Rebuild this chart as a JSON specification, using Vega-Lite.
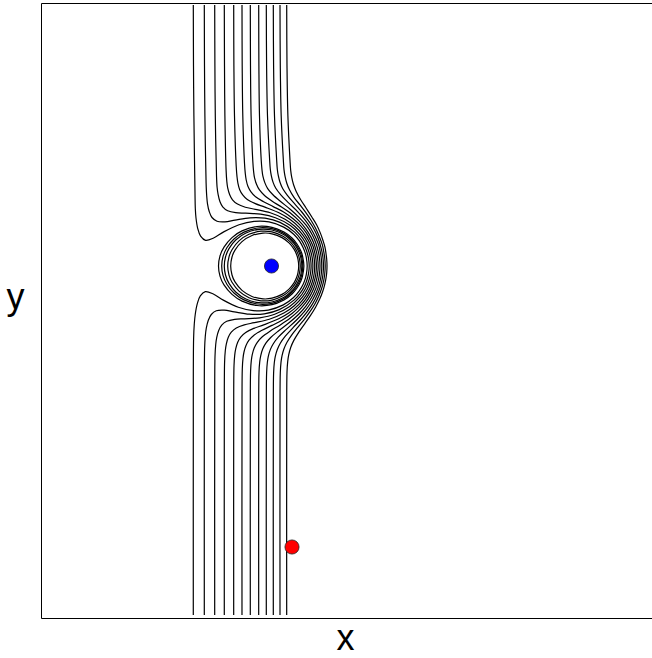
{
  "$schema": "https://vega.github.io/schema/vega-lite/v6.json",
  "width": 611,
  "height": 615,
  "autosize": {"type": "none"},
  "padding": {"left": 41, "top": 3, "right": 0, "bottom": 40},
  "background": "white",
  "config": {
    "view": {"stroke": null},
    "axis": {
      "ticks": false, "labels": false, "grid": false,
      "domainColor": "black", "domainWidth": 1,
      "titleFont": "Liberation Sans", "titleFontSize": 36,
      "titleFontWeight": "normal", "titleColor": "black"
    }
  },
  "datasets": {
    "streamlines": [
      {"s":1,"o":0,"x":-78.7,"y":261},{"s":1,"o":1,"x":-78.5,"y":200},{"s":1,"o":2,"x":-78.1,"y":150},{"s":1,"o":3,"x":-77,"y":72.8},{"s":1,"o":4,"x":-76.7,"y":57.8},{"s":1,"o":5,"x":-76,"y":48},{"s":1,"o":6,"x":-74.3,"y":37.6},{"s":1,"o":7,"x":-71.4,"y":29.9},{"s":1,"o":8,"x":-66.4,"y":25.7},{"s":1,"o":9,"x":-58.4,"y":28},{"s":1,"o":10,"x":-48.3,"y":34.1},{"s":1,"o":11,"x":-33,"y":41.2},{"s":1,"o":12,"x":-18,"y":44.6},{"s":1,"o":13,"x":-3,"y":44.1},{"s":1,"o":14,"x":11.7,"y":38.9},{"s":1,"o":15,"x":21.7,"y":31.8},{"s":1,"o":16,"x":27.6,"y":24.8},{"s":1,"o":17,"x":31.3,"y":17.9},{"s":1,"o":18,"x":33.3,"y":12.6},{"s":1,"o":19,"x":34.3,"y":8.7},{"s":1,"o":20,"x":35.2,"y":0},{"s":1,"o":21,"x":34.3,"y":-8.7},{"s":1,"o":22,"x":33.3,"y":-12.6},{"s":1,"o":23,"x":31.3,"y":-17.9},{"s":1,"o":24,"x":27.3,"y":-24.8},{"s":1,"o":25,"x":21.3,"y":-31.8},{"s":1,"o":26,"x":11.3,"y":-38.9},{"s":1,"o":27,"x":-3.7,"y":-44.1},{"s":1,"o":28,"x":-18.7,"y":-44.6},{"s":1,"o":29,"x":-33.7,"y":-41.2},{"s":1,"o":30,"x":-48.7,"y":-34.1},{"s":1,"o":31,"x":-58.7,"y":-28},{"s":1,"o":32,"x":-66.7,"y":-25.7},{"s":1,"o":33,"x":-71.7,"y":-29.9},{"s":1,"o":34,"x":-74.7,"y":-37.6},{"s":1,"o":35,"x":-76.7,"y":-48},{"s":1,"o":36,"x":-77.7,"y":-57.8},{"s":1,"o":37,"x":-78.4,"y":-72.8},{"s":1,"o":38,"x":-78.7,"y":-150},{"s":1,"o":39,"x":-78.7,"y":-349},

      {"s":2,"o":0,"x":-67.7,"y":261},{"s":2,"o":1,"x":-67.5,"y":200},{"s":2,"o":2,"x":-67.1,"y":150},{"s":2,"o":3,"x":-65.9,"y":83.1},{"s":2,"o":4,"x":-65.3,"y":70.2},{"s":2,"o":5,"x":-64.5,"y":62.2},{"s":2,"o":6,"x":-62.7,"y":54.2},{"s":2,"o":7,"x":-60,"y":48.5},{"s":2,"o":8,"x":-55,"y":44.8},{"s":2,"o":9,"x":-47,"y":44.2},{"s":2,"o":10,"x":-37,"y":45.9},{"s":2,"o":11,"x":-22,"y":48.2},{"s":2,"o":12,"x":-7,"y":47.8},{"s":2,"o":13,"x":8,"y":43.6},{"s":2,"o":14,"x":22.7,"y":33.9},{"s":2,"o":15,"x":29.6,"y":25.6},{"s":2,"o":16,"x":33.3,"y":18.4},{"s":2,"o":17,"x":35.8,"y":11},{"s":2,"o":18,"x":36.8,"y":5.7},{"s":2,"o":19,"x":37.2,"y":0},{"s":2,"o":20,"x":36.8,"y":-5.7},{"s":2,"o":21,"x":35.8,"y":-11},{"s":2,"o":22,"x":33.3,"y":-18.4},{"s":2,"o":23,"x":29.3,"y":-25.6},{"s":2,"o":24,"x":22.3,"y":-33.9},{"s":2,"o":25,"x":7.3,"y":-43.6},{"s":2,"o":26,"x":-7.7,"y":-47.8},{"s":2,"o":27,"x":-22.7,"y":-48.2},{"s":2,"o":28,"x":-37.7,"y":-45.9},{"s":2,"o":29,"x":-47.7,"y":-44.2},{"s":2,"o":30,"x":-55.7,"y":-44.8},{"s":2,"o":31,"x":-60.7,"y":-48.5},{"s":2,"o":32,"x":-63.7,"y":-54.2},{"s":2,"o":33,"x":-65.7,"y":-62.2},{"s":2,"o":34,"x":-66.7,"y":-70.2},{"s":2,"o":35,"x":-67.4,"y":-83.1},{"s":2,"o":36,"x":-67.7,"y":-150},{"s":2,"o":37,"x":-67.7,"y":-349},

      {"s":3,"o":0,"x":-57.3,"y":261},{"s":3,"o":1,"x":-57.1,"y":200},{"s":3,"o":2,"x":-56.7,"y":150},{"s":3,"o":3,"x":-55.5,"y":90.6},{"s":3,"o":4,"x":-54.9,"y":78.8},{"s":3,"o":5,"x":-53.9,"y":71.6},{"s":3,"o":6,"x":-52.1,"y":64.5},{"s":3,"o":7,"x":-49.3,"y":59.2},{"s":3,"o":8,"x":-44.3,"y":55.3},{"s":3,"o":9,"x":-36.3,"y":53.3},{"s":3,"o":10,"x":-26.3,"y":52.8},{"s":3,"o":11,"x":-11.3,"y":51.8},{"s":3,"o":12,"x":3.4,"y":48.3},{"s":3,"o":13,"x":18.4,"y":40.5},{"s":3,"o":14,"x":28.1,"y":31.2},{"s":3,"o":15,"x":33,"y":24},{"s":3,"o":16,"x":35.7,"y":17.7},{"s":3,"o":17,"x":37.7,"y":11.4},{"s":3,"o":18,"x":38.7,"y":6},{"s":3,"o":19,"x":39.1,"y":0},{"s":3,"o":20,"x":38.7,"y":-6},{"s":3,"o":21,"x":37.7,"y":-11.4},{"s":3,"o":22,"x":35.7,"y":-17.7},{"s":3,"o":23,"x":32.7,"y":-24},{"s":3,"o":24,"x":27.7,"y":-31.2},{"s":3,"o":25,"x":17.7,"y":-40.5},{"s":3,"o":26,"x":2.7,"y":-48.3},{"s":3,"o":27,"x":-12.3,"y":-51.8},{"s":3,"o":28,"x":-27.3,"y":-52.8},{"s":3,"o":29,"x":-37.3,"y":-53.3},{"s":3,"o":30,"x":-45.3,"y":-55.3},{"s":3,"o":31,"x":-50.3,"y":-59.2},{"s":3,"o":32,"x":-53.3,"y":-64.5},{"s":3,"o":33,"x":-55.3,"y":-71.6},{"s":3,"o":34,"x":-56.3,"y":-78.8},{"s":3,"o":35,"x":-57,"y":-90.6},{"s":3,"o":36,"x":-57.3,"y":-150},{"s":3,"o":37,"x":-57.3,"y":-349},

      {"s":4,"o":0,"x":-47.7,"y":261},{"s":4,"o":1,"x":-47.5,"y":200},{"s":4,"o":2,"x":-47.1,"y":150},{"s":4,"o":3,"x":-45.9,"y":95.9},{"s":4,"o":4,"x":-45.2,"y":84.8},{"s":4,"o":5,"x":-44.3,"y":78.1},{"s":4,"o":6,"x":-42.3,"y":71.3},{"s":4,"o":7,"x":-39.5,"y":66.2},{"s":4,"o":8,"x":-34.5,"y":61.9},{"s":4,"o":9,"x":-26.7,"y":58.8},{"s":4,"o":10,"x":-16.7,"y":56.7},{"s":4,"o":11,"x":-1.7,"y":53.2},{"s":4,"o":12,"x":13,"y":46.8},{"s":4,"o":13,"x":22.7,"y":39.7},{"s":4,"o":14,"x":30.7,"y":31.2},{"s":4,"o":15,"x":35.6,"y":23.2},{"s":4,"o":16,"x":38.3,"y":16},{"s":4,"o":17,"x":39.8,"y":10.4},{"s":4,"o":18,"x":40.5,"y":6.2},{"s":4,"o":19,"x":40.9,"y":0},{"s":4,"o":20,"x":40.5,"y":-6.2},{"s":4,"o":21,"x":39.8,"y":-10.4},{"s":4,"o":22,"x":38.3,"y":-16},{"s":4,"o":23,"x":35.3,"y":-23.2},{"s":4,"o":24,"x":30.3,"y":-31.2},{"s":4,"o":25,"x":22.3,"y":-39.7},{"s":4,"o":26,"x":12.3,"y":-46.8},{"s":4,"o":27,"x":-2.7,"y":-53.2},{"s":4,"o":28,"x":-17.7,"y":-56.7},{"s":4,"o":29,"x":-27.7,"y":-58.8},{"s":4,"o":30,"x":-35.7,"y":-61.9},{"s":4,"o":31,"x":-40.7,"y":-66.2},{"s":4,"o":32,"x":-43.7,"y":-71.3},{"s":4,"o":33,"x":-45.7,"y":-78.1},{"s":4,"o":34,"x":-46.7,"y":-84.8},{"s":4,"o":35,"x":-47.4,"y":-95.9},{"s":4,"o":36,"x":-47.7,"y":-150},{"s":4,"o":37,"x":-47.7,"y":-349},

      {"s":5,"o":0,"x":-38.3,"y":261},{"s":5,"o":1,"x":-38.1,"y":200},{"s":5,"o":2,"x":-37.5,"y":150},{"s":5,"o":3,"x":-35.8,"y":100},{"s":5,"o":4,"x":-35,"y":89.4},{"s":5,"o":5,"x":-34.1,"y":82.9},{"s":5,"o":6,"x":-32.3,"y":76.3},{"s":5,"o":7,"x":-29.3,"y":71.1},{"s":5,"o":8,"x":-24.7,"y":66.5},{"s":5,"o":9,"x":-16.7,"y":62.4},{"s":5,"o":10,"x":-7.1,"y":58.9},{"s":5,"o":11,"x":7.9,"y":52.8},{"s":5,"o":12,"x":17.5,"y":47},{"s":5,"o":13,"x":27.2,"y":38.6},{"s":5,"o":14,"x":33.9,"y":29.9},{"s":5,"o":15,"x":37.9,"y":22.7},{"s":5,"o":16,"x":40.2,"y":16.2},{"s":5,"o":17,"x":41.7,"y":10.4},{"s":5,"o":18,"x":42.4,"y":5.8},{"s":5,"o":19,"x":42.7,"y":0},{"s":5,"o":20,"x":42.4,"y":-5.8},{"s":5,"o":21,"x":41.7,"y":-10.4},{"s":5,"o":22,"x":40.2,"y":-16.2},{"s":5,"o":23,"x":37.7,"y":-22.7},{"s":5,"o":24,"x":33.7,"y":-29.9},{"s":5,"o":25,"x":26.7,"y":-38.6},{"s":5,"o":26,"x":16.7,"y":-47},{"s":5,"o":27,"x":6.7,"y":-52.8},{"s":5,"o":28,"x":-8.3,"y":-58.9},{"s":5,"o":29,"x":-18.3,"y":-62.4},{"s":5,"o":30,"x":-26.3,"y":-66.5},{"s":5,"o":31,"x":-31.3,"y":-71.1},{"s":5,"o":32,"x":-34.3,"y":-76.3},{"s":5,"o":33,"x":-36.3,"y":-82.9},{"s":5,"o":34,"x":-37.3,"y":-89.4},{"s":5,"o":35,"x":-38,"y":-100},{"s":5,"o":36,"x":-38.3,"y":-150},{"s":5,"o":37,"x":-38.3,"y":-349},

      {"s":6,"o":0,"x":-30,"y":261},{"s":6,"o":1,"x":-29.8,"y":200},{"s":6,"o":2,"x":-29.2,"y":150},{"s":6,"o":3,"x":-27.5,"y":102.8},{"s":6,"o":4,"x":-26.7,"y":92.4},{"s":6,"o":5,"x":-25.8,"y":86},{"s":6,"o":6,"x":-24,"y":79.5},{"s":6,"o":7,"x":-21,"y":74.2},{"s":6,"o":8,"x":-16.4,"y":69.2},{"s":6,"o":9,"x":-8.4,"y":64.3},{"s":6,"o":10,"x":1.2,"y":59.4},{"s":6,"o":11,"x":11.2,"y":54.2},{"s":6,"o":12,"x":20.8,"y":47.5},{"s":6,"o":13,"x":28.8,"y":40.2},{"s":6,"o":14,"x":34.5,"y":32.8},{"s":6,"o":15,"x":38.2,"y":26.1},{"s":6,"o":16,"x":41.2,"y":19.3},{"s":6,"o":17,"x":43,"y":12.4},{"s":6,"o":18,"x":44,"y":6.7},{"s":6,"o":19,"x":44.4,"y":0},{"s":6,"o":20,"x":44,"y":-6.7},{"s":6,"o":21,"x":43,"y":-12.4},{"s":6,"o":22,"x":41,"y":-19.3},{"s":6,"o":23,"x":38,"y":-26.1},{"s":6,"o":24,"x":34,"y":-32.8},{"s":6,"o":25,"x":28,"y":-40.2},{"s":6,"o":26,"x":20,"y":-47.5},{"s":6,"o":27,"x":10,"y":-54.2},{"s":6,"o":28,"x":0,"y":-59.4},{"s":6,"o":29,"x":-10,"y":-64.3},{"s":6,"o":30,"x":-18,"y":-69.2},{"s":6,"o":31,"x":-23,"y":-74.2},{"s":6,"o":32,"x":-26,"y":-79.5},{"s":6,"o":33,"x":-28,"y":-86},{"s":6,"o":34,"x":-29,"y":-92.4},{"s":6,"o":35,"x":-29.7,"y":-102.8},{"s":6,"o":36,"x":-30,"y":-150},{"s":6,"o":37,"x":-30,"y":-349},

      {"s":7,"o":0,"x":-21.7,"y":261},{"s":7,"o":1,"x":-21.5,"y":200},{"s":7,"o":2,"x":-20.9,"y":150},{"s":7,"o":3,"x":-19.2,"y":104.8},{"s":7,"o":4,"x":-18.4,"y":94.6},{"s":7,"o":5,"x":-17.5,"y":88.3},{"s":7,"o":6,"x":-15.5,"y":81.7},{"s":7,"o":7,"x":-12.7,"y":76.3},{"s":7,"o":8,"x":-7.7,"y":70.8},{"s":7,"o":9,"x":-0.1,"y":65},{"s":7,"o":10,"x":9.5,"y":58.9},{"s":7,"o":11,"x":19.5,"y":52},{"s":7,"o":12,"x":27.1,"y":45.1},{"s":7,"o":13,"x":33.8,"y":37.2},{"s":7,"o":14,"x":38.6,"y":29.6},{"s":7,"o":15,"x":42,"y":22.3},{"s":7,"o":16,"x":44.3,"y":14.6},{"s":7,"o":17,"x":45.5,"y":8.7},{"s":7,"o":18,"x":46.2,"y":0},{"s":7,"o":19,"x":45.5,"y":-8.7},{"s":7,"o":20,"x":44.3,"y":-14.6},{"s":7,"o":21,"x":41.8,"y":-22.3},{"s":7,"o":22,"x":38.3,"y":-29.6},{"s":7,"o":23,"x":33.3,"y":-37.2},{"s":7,"o":24,"x":26.3,"y":-45.1},{"s":7,"o":25,"x":18.3,"y":-52},{"s":7,"o":26,"x":8.3,"y":-58.9},{"s":7,"o":27,"x":-1.7,"y":-65},{"s":7,"o":28,"x":-9.7,"y":-70.8},{"s":7,"o":29,"x":-14.7,"y":-76.3},{"s":7,"o":30,"x":-17.7,"y":-81.7},{"s":7,"o":31,"x":-19.7,"y":-88.3},{"s":7,"o":32,"x":-20.7,"y":-94.6},{"s":7,"o":33,"x":-21.4,"y":-104.8},{"s":7,"o":34,"x":-21.7,"y":-150},{"s":7,"o":35,"x":-21.7,"y":-349},

      {"s":8,"o":0,"x":-13.3,"y":261},{"s":8,"o":1,"x":-13.1,"y":200},{"s":8,"o":2,"x":-12.5,"y":150},{"s":8,"o":3,"x":-10.8,"y":106.2},{"s":8,"o":4,"x":-10,"y":96.1},{"s":8,"o":5,"x":-9.1,"y":89.8},{"s":8,"o":6,"x":-7.1,"y":83.1},{"s":8,"o":7,"x":-4.3,"y":77.4},{"s":8,"o":8,"x":0.7,"y":71.5},{"s":8,"o":9,"x":8.3,"y":64.7},{"s":8,"o":10,"x":17.9,"y":57},{"s":8,"o":11,"x":27.5,"y":48.2},{"s":8,"o":12,"x":34.5,"y":40.3},{"s":8,"o":13,"x":40.2,"y":31.3},{"s":8,"o":14,"x":43.9,"y":22.8},{"s":8,"o":15,"x":46.2,"y":14.9},{"s":8,"o":16,"x":47.4,"y":8.6},{"s":8,"o":17,"x":48,"y":0},{"s":8,"o":18,"x":47.4,"y":-8.6},{"s":8,"o":19,"x":46.2,"y":-14.9},{"s":8,"o":20,"x":43.7,"y":-22.8},{"s":8,"o":21,"x":39.7,"y":-31.3},{"s":8,"o":22,"x":33.7,"y":-40.3},{"s":8,"o":23,"x":26.7,"y":-48.2},{"s":8,"o":24,"x":16.7,"y":-57},{"s":8,"o":25,"x":6.7,"y":-64.7},{"s":8,"o":26,"x":-1.3,"y":-71.5},{"s":8,"o":27,"x":-6.3,"y":-77.4},{"s":8,"o":28,"x":-9.3,"y":-83.1},{"s":8,"o":29,"x":-11.3,"y":-89.8},{"s":8,"o":30,"x":-12.3,"y":-96.1},{"s":8,"o":31,"x":-13,"y":-106.2},{"s":8,"o":32,"x":-13.3,"y":-150},{"s":8,"o":33,"x":-13.3,"y":-349},

      {"s":9,"o":0,"x":-5.7,"y":261},{"s":9,"o":1,"x":-5.4,"y":200},{"s":9,"o":2,"x":-4.5,"y":150},{"s":9,"o":3,"x":-2.4,"y":106.9},{"s":9,"o":4,"x":-1.7,"y":96.7},{"s":9,"o":5,"x":-0.7,"y":90.4},{"s":9,"o":6,"x":1.1,"y":83.6},{"s":9,"o":7,"x":3.8,"y":77.7},{"s":9,"o":8,"x":8.8,"y":71.2},{"s":9,"o":9,"x":16.3,"y":63.4},{"s":9,"o":10,"x":25.8,"y":54.2},{"s":9,"o":11,"x":33.3,"y":45.6},{"s":9,"o":12,"x":38.9,"y":37.5},{"s":9,"o":13,"x":43.6,"y":28.5},{"s":9,"o":14,"x":46.6,"y":21.1},{"s":9,"o":15,"x":48.3,"y":13.8},{"s":9,"o":16,"x":49.3,"y":7.8},{"s":9,"o":17,"x":49.8,"y":0},{"s":9,"o":18,"x":49.3,"y":-7.8},{"s":9,"o":19,"x":48.3,"y":-13.8},{"s":9,"o":20,"x":46.3,"y":-21.1},{"s":9,"o":21,"x":43.3,"y":-28.5},{"s":9,"o":22,"x":38.3,"y":-37.5},{"s":9,"o":23,"x":32.3,"y":-45.6},{"s":9,"o":24,"x":24.3,"y":-54.2},{"s":9,"o":25,"x":14.3,"y":-63.4},{"s":9,"o":26,"x":6.3,"y":-71.2},{"s":9,"o":27,"x":1.3,"y":-77.7},{"s":9,"o":28,"x":-1.7,"y":-83.6},{"s":9,"o":29,"x":-3.7,"y":-90.4},{"s":9,"o":30,"x":-4.7,"y":-96.7},{"s":9,"o":31,"x":-5.4,"y":-106.9},{"s":9,"o":32,"x":-5.7,"y":-150},{"s":9,"o":33,"x":-5.7,"y":-349},

      {"s":10,"o":0,"x":1.3,"y":261},{"s":10,"o":1,"x":1.6,"y":200},{"s":10,"o":2,"x":2.5,"y":150},{"s":10,"o":3,"x":4.6,"y":107},{"s":10,"o":4,"x":5.3,"y":96.8},{"s":10,"o":5,"x":6.3,"y":90.4},{"s":10,"o":6,"x":8.1,"y":83.5},{"s":10,"o":7,"x":10.8,"y":77.2},{"s":10,"o":8,"x":15.8,"y":70.2},{"s":10,"o":9,"x":23.3,"y":61.4},{"s":10,"o":10,"x":29.8,"y":54},{"s":10,"o":11,"x":35.3,"y":46.8},{"s":10,"o":12,"x":40.3,"y":39.8},{"s":10,"o":13,"x":43.9,"y":32.9},{"s":10,"o":14,"x":47.1,"y":25},{"s":10,"o":15,"x":49.3,"y":17.1},{"s":10,"o":16,"x":50.6,"y":10.9},{"s":10,"o":17,"x":51.2,"y":6},{"s":10,"o":18,"x":51.5,"y":0},{"s":10,"o":19,"x":51.2,"y":-6},{"s":10,"o":20,"x":50.6,"y":-10.9},{"s":10,"o":21,"x":49.3,"y":-17.1},{"s":10,"o":22,"x":46.8,"y":-25},{"s":10,"o":23,"x":43.3,"y":-32.9},{"s":10,"o":24,"x":39.3,"y":-39.8},{"s":10,"o":25,"x":34.3,"y":-46.8},{"s":10,"o":26,"x":28.3,"y":-54},{"s":10,"o":27,"x":21.3,"y":-61.4},{"s":10,"o":28,"x":13.3,"y":-70.2},{"s":10,"o":29,"x":8.3,"y":-77.2},{"s":10,"o":30,"x":5.3,"y":-83.5},{"s":10,"o":31,"x":3.3,"y":-90.4},{"s":10,"o":32,"x":2.3,"y":-96.8},{"s":10,"o":33,"x":1.6,"y":-107},{"s":10,"o":34,"x":1.3,"y":-150},{"s":10,"o":35,"x":1.3,"y":-349},

      {"s":11,"o":0,"x":8,"y":261},{"s":11,"o":1,"x":8.3,"y":200},{"s":11,"o":2,"x":9.2,"y":150},{"s":11,"o":3,"x":11.3,"y":106.7},{"s":11,"o":4,"x":12,"y":96.4},{"s":11,"o":5,"x":13,"y":89.9},{"s":11,"o":6,"x":14.8,"y":82.8},{"s":11,"o":7,"x":17.5,"y":76.2},{"s":11,"o":8,"x":22,"y":68.6},{"s":11,"o":9,"x":28,"y":61.1},{"s":11,"o":10,"x":33.5,"y":53.8},{"s":11,"o":11,"x":39,"y":45.7},{"s":11,"o":12,"x":43.6,"y":37.7},{"s":11,"o":13,"x":47.3,"y":29.5},{"s":11,"o":14,"x":50.3,"y":21.3},{"s":11,"o":15,"x":51.8,"y":14.1},{"s":11,"o":16,"x":52.7,"y":8.3},{"s":11,"o":17,"x":53.2,"y":0},{"s":11,"o":18,"x":52.7,"y":-8.3},{"s":11,"o":19,"x":51.8,"y":-14.1},{"s":11,"o":20,"x":50,"y":-21.3},{"s":11,"o":21,"x":47,"y":-29.5},{"s":11,"o":22,"x":43,"y":-37.7},{"s":11,"o":23,"x":38,"y":-45.7},{"s":11,"o":24,"x":32,"y":-53.8},{"s":11,"o":25,"x":26,"y":-61.1},{"s":11,"o":26,"x":20,"y":-68.6},{"s":11,"o":27,"x":15,"y":-76.2},{"s":11,"o":28,"x":12,"y":-82.8},{"s":11,"o":29,"x":10,"y":-89.9},{"s":11,"o":30,"x":9,"y":-96.4},{"s":11,"o":31,"x":8.3,"y":-106.7},{"s":11,"o":32,"x":8,"y":-150},{"s":11,"o":33,"x":8,"y":-349},

      {"s":12,"o":0,"x":14.7,"y":261},{"s":12,"o":1,"x":15,"y":200},{"s":12,"o":2,"x":15.9,"y":150},{"s":12,"o":3,"x":18,"y":105.9},{"s":12,"o":4,"x":18.7,"y":95.6},{"s":12,"o":5,"x":19.7,"y":88.9},{"s":12,"o":6,"x":21.5,"y":81.5},{"s":12,"o":7,"x":24.2,"y":74.6},{"s":12,"o":8,"x":28.7,"y":66.3},{"s":12,"o":9,"x":34.2,"y":57.8},{"s":12,"o":10,"x":39.7,"y":49.2},{"s":12,"o":11,"x":44.7,"y":41},{"s":12,"o":12,"x":48.3,"y":33.1},{"s":12,"o":13,"x":51,"y":25.5},{"s":12,"o":14,"x":53,"y":18.7},{"s":12,"o":15,"x":54.1,"y":11.7},{"s":12,"o":16,"x":54.7,"y":6.8},{"s":12,"o":17,"x":55,"y":0},{"s":12,"o":18,"x":54.7,"y":-6.8},{"s":12,"o":19,"x":54.1,"y":-11.7},{"s":12,"o":20,"x":52.7,"y":-18.7},{"s":12,"o":21,"x":50.7,"y":-25.5},{"s":12,"o":22,"x":47.7,"y":-33.1},{"s":12,"o":23,"x":43.7,"y":-41},{"s":12,"o":24,"x":38.7,"y":-49.2},{"s":12,"o":25,"x":32.7,"y":-57.8},{"s":12,"o":26,"x":26.7,"y":-66.3},{"s":12,"o":27,"x":21.7,"y":-74.6},{"s":12,"o":28,"x":18.7,"y":-81.5},{"s":12,"o":29,"x":16.7,"y":-88.9},{"s":12,"o":30,"x":15.7,"y":-95.6},{"s":12,"o":31,"x":15,"y":-105.9},{"s":12,"o":32,"x":14.7,"y":-150},{"s":12,"o":33,"x":14.7,"y":-349}
    ],
    "loops": [
      {"s":"e","o":0,"x":-53.5,"y":0},{"s":"e","o":1,"x":-52,"y":10.1},{"s":"e","o":2,"x":-48,"y":18.9},{"s":"e","o":3,"x":-40,"y":28.4},{"s":"e","o":4,"x":-30,"y":35.1},{"s":"e","o":5,"x":-15,"y":39.5},{"s":"e","o":6,"x":0,"y":38.7},{"s":"e","o":7,"x":12,"y":34},{"s":"e","o":8,"x":20,"y":28},{"s":"e","o":9,"x":25,"y":22},{"s":"e","o":10,"x":28.5,"y":15.8},{"s":"e","o":11,"x":30.5,"y":10.2},{"s":"e","o":12,"x":31.9,"y":0},{"s":"e","o":13,"x":30.5,"y":-10.2},{"s":"e","o":14,"x":28.5,"y":-15.8},{"s":"e","o":15,"x":25,"y":-22},{"s":"e","o":16,"x":20,"y":-28},{"s":"e","o":17,"x":12,"y":-34},{"s":"e","o":18,"x":0,"y":-38.7},{"s":"e","o":19,"x":-15,"y":-39.5},{"s":"e","o":20,"x":-30,"y":-35.1},{"s":"e","o":21,"x":-40,"y":-28.4},{"s":"e","o":22,"x":-48,"y":-18.9},{"s":"e","o":23,"x":-52,"y":-10.1},

      {"s":"d","o":0,"x":-50.3,"y":0},{"s":"d","o":1,"x":-49,"y":9.4},{"s":"d","o":2,"x":-45,"y":18.5},{"s":"d","o":3,"x":-38,"y":27},{"s":"d","o":4,"x":-28,"y":33.9},{"s":"d","o":5,"x":-14,"y":38},{"s":"d","o":6,"x":0,"y":37.3},{"s":"d","o":7,"x":12,"y":32.6},{"s":"d","o":8,"x":20,"y":26.3},{"s":"d","o":9,"x":25,"y":20},{"s":"d","o":10,"x":28.5,"y":12.9},{"s":"d","o":11,"x":30,"y":7.7},{"s":"d","o":12,"x":30.8,"y":0},{"s":"d","o":13,"x":30,"y":-7.7},{"s":"d","o":14,"x":28.5,"y":-12.9},{"s":"d","o":15,"x":25,"y":-20},{"s":"d","o":16,"x":20,"y":-26.3},{"s":"d","o":17,"x":12,"y":-32.6},{"s":"d","o":18,"x":0,"y":-37.3},{"s":"d","o":19,"x":-14,"y":-38},{"s":"d","o":20,"x":-28,"y":-33.9},{"s":"d","o":21,"x":-38,"y":-27},{"s":"d","o":22,"x":-45,"y":-18.5},{"s":"d","o":23,"x":-49,"y":-9.4},

      {"s":"c","o":0,"x":-47.7,"y":0},{"s":"c","o":1,"x":-46.5,"y":9},{"s":"c","o":2,"x":-43,"y":17.4},{"s":"c","o":3,"x":-36,"y":26.2},{"s":"c","o":4,"x":-26,"y":33},{"s":"c","o":5,"x":-13,"y":36.7},{"s":"c","o":6,"x":0,"y":36},{"s":"c","o":7,"x":12,"y":31.3},{"s":"c","o":8,"x":19,"y":25.8},{"s":"c","o":9,"x":24,"y":19.6},{"s":"c","o":10,"x":27.5,"y":12.6},{"s":"c","o":11,"x":29,"y":7.5},{"s":"c","o":12,"x":29.8,"y":0},{"s":"c","o":13,"x":29,"y":-7.5},{"s":"c","o":14,"x":27.5,"y":-12.6},{"s":"c","o":15,"x":24,"y":-19.6},{"s":"c","o":16,"x":19,"y":-25.8},{"s":"c","o":17,"x":12,"y":-31.3},{"s":"c","o":18,"x":0,"y":-36},{"s":"c","o":19,"x":-13,"y":-36.7},{"s":"c","o":20,"x":-26,"y":-33},{"s":"c","o":21,"x":-36,"y":-26.2},{"s":"c","o":22,"x":-43,"y":-17.4},{"s":"c","o":23,"x":-46.5,"y":-9},

      {"s":"b","o":0,"x":-44.3,"y":0},{"s":"b","o":1,"x":-43,"y":9.1},{"s":"b","o":2,"x":-40,"y":16.3},{"s":"b","o":3,"x":-33,"y":25.1},{"s":"b","o":4,"x":-23,"y":31.7},{"s":"b","o":5,"x":-11,"y":34.8},{"s":"b","o":6,"x":0,"y":34.1},{"s":"b","o":7,"x":11,"y":29.8},{"s":"b","o":8,"x":18,"y":24.4},{"s":"b","o":9,"x":23,"y":18.2},{"s":"b","o":10,"x":26,"y":12.1},{"s":"b","o":11,"x":27.5,"y":7},{"s":"b","o":12,"x":28.25,"y":0},{"s":"b","o":13,"x":27.5,"y":-7},{"s":"b","o":14,"x":26,"y":-12.1},{"s":"b","o":15,"x":23,"y":-18.2},{"s":"b","o":16,"x":18,"y":-24.4},{"s":"b","o":17,"x":11,"y":-29.8},{"s":"b","o":18,"x":0,"y":-34.1},{"s":"b","o":19,"x":-11,"y":-34.8},{"s":"b","o":20,"x":-23,"y":-31.7},{"s":"b","o":21,"x":-33,"y":-25.1},{"s":"b","o":22,"x":-40,"y":-16.3},{"s":"b","o":23,"x":-43,"y":-9.1},

      {"s":"a","o":0,"x":-41.3,"y":0},{"s":"a","o":1,"x":-40,"y":9},{"s":"a","o":2,"x":-37,"y":15.9},{"s":"a","o":3,"x":-30,"y":24.4},{"s":"a","o":4,"x":-20,"y":30.5},{"s":"a","o":5,"x":-9,"y":32.9},{"s":"a","o":6,"x":0,"y":32.2},{"s":"a","o":7,"x":10,"y":28.4},{"s":"a","o":8,"x":17,"y":23.1},{"s":"a","o":9,"x":22,"y":16.8},{"s":"a","o":10,"x":24.5,"y":11.7},{"s":"a","o":11,"x":26,"y":6.6},{"s":"a","o":12,"x":26.7,"y":0},{"s":"a","o":13,"x":26,"y":-6.6},{"s":"a","o":14,"x":24.5,"y":-11.7},{"s":"a","o":15,"x":22,"y":-16.8},{"s":"a","o":16,"x":17,"y":-23.1},{"s":"a","o":17,"x":10,"y":-28.4},{"s":"a","o":18,"x":0,"y":-32.2},{"s":"a","o":19,"x":-9,"y":-32.9},{"s":"a","o":20,"x":-20,"y":-30.5},{"s":"a","o":21,"x":-30,"y":-24.4},{"s":"a","o":22,"x":-37,"y":-15.9},{"s":"a","o":23,"x":-40,"y":-9}
    ],
    "markers": [
      {"kind": "vortex", "x": -0.5, "y": 0},
      {"kind": "tracer", "x": 20, "y": -281}
    ]
  },
  "layer": [
    {
      "data": {"name": "streamlines"},
      "mark": {"type": "line", "interpolate": "catmull-rom", "color": "black", "strokeWidth": 1.2},
      "encoding": {
        "x": {"field": "x", "type": "quantitative",
              "scale": {"domain": [-231, 380], "nice": false, "zero": false},
              "axis": {"orient": "bottom", "title": "x", "titleX": 304, "titleY": 20, "titleAlign": "center", "titleBaseline": "middle"}},
        "y": {"field": "y", "type": "quantitative",
              "scale": {"domain": [-352, 263], "nice": false, "zero": false},
              "axis": {"orient": "left", "title": "y", "titleAngle": 0, "titleX": -26, "titleY": 294, "titleAlign": "center", "titleBaseline": "middle"}},
        "detail": {"field": "s", "type": "nominal"},
        "order": {"field": "o", "type": "quantitative"}
      }
    },
    {
      "data": {"name": "loops"},
      "mark": {"type": "line", "interpolate": "cardinal-closed", "color": "black", "strokeWidth": 1.2},
      "encoding": {
        "x": {"field": "x", "type": "quantitative",
              "scale": {"domain": [-231, 380], "nice": false, "zero": false},
              "axis": {"orient": "top", "title": null}},
        "y": {"field": "y", "type": "quantitative",
              "scale": {"domain": [-352, 263], "nice": false, "zero": false},
              "axis": null},
        "detail": {"field": "s", "type": "nominal"},
        "order": {"field": "o", "type": "quantitative"}
      }
    },
    {
      "data": {"name": "markers"},
      "mark": {"type": "point", "filled": true, "size": 200, "stroke": "#222222", "strokeWidth": 0.8, "opacity": 1},
      "encoding": {
        "x": {"field": "x", "type": "quantitative", "scale": {"domain": [-231, 380], "nice": false, "zero": false}, "axis": null},
        "y": {"field": "y", "type": "quantitative", "scale": {"domain": [-352, 263], "nice": false, "zero": false}, "axis": null},
        "fill": {"field": "kind", "type": "nominal",
                 "scale": {"domain": ["vortex", "tracer"], "range": ["#0000ff", "#ff0000"]},
                 "legend": null}
      }
    }
  ],
  "resolve": {"axis": {"x": "independent", "y": "independent"}}
}
